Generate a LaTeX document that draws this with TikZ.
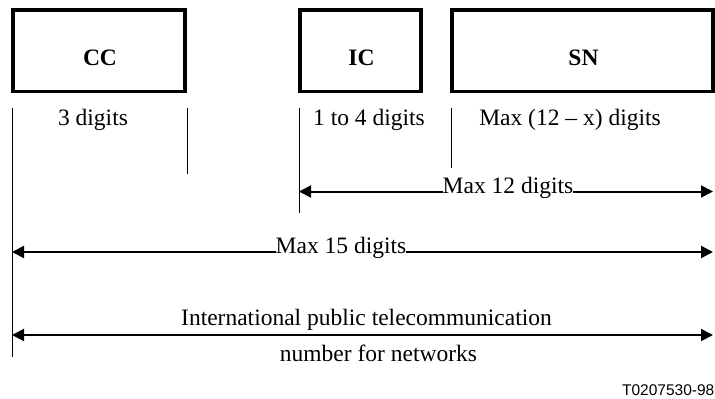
\documentclass[tikz,border=0pt]{standalone}
\usepackage{fontspec}
\setmainfont{Liberation Serif}
\newfontfamily\arialfont{Liberation Sans}
\usetikzlibrary{arrows.meta}
\begin{document}
\begin{tikzpicture}[x=1pt,y=-1pt,
  fieldbox/.style={draw,line width=3.5pt},
  guide/.style={draw,line width=0.8pt},
  dimline/.style={line width=2pt,{Triangle[length=12pt,width=12pt]}-{Triangle[length=12pt,width=12pt]}},
  fieldname/.style={font=\fontsize{23.5}{26}\selectfont\bfseries,anchor=base},
  lbl/.style={font=\fontsize{23.5}{26}\selectfont,anchor=base,inner sep=0pt},
  onlbl/.style={lbl,fill=white,inner xsep=0pt}]
\useasboundingbox (0,0) rectangle (715,399);
% boxes
\draw[fieldbox] (13,10) rectangle (185,91.5);
\draw[fieldbox] (300,10) rectangle (421,91.5);
\draw[fieldbox] (452,10) rectangle (713,91.5);
\node[fieldname] (cc) at (100,65) {CC};
\node[fieldname] (ic) at (361.5,65) {IC};
\node[fieldname] (sn) at (583.5,65) {SN};
% guide lines
\coordinate (g1t) at (12,108); \coordinate (g1b) at (12,357);
\coordinate (g2t) at (187,108); \coordinate (g2b) at (187,174);
\coordinate (g3t) at (299,108); \coordinate (g3b) at (299,213);
\coordinate (g4t) at (451,108); \coordinate (g4b) at (451,168);
\draw[guide] (g1t) -- (g1b);
\draw[guide] (g2t) -- (g2b);
\draw[guide] (g3t) -- (g3b);
\draw[guide] (g4t) -- (g4b);
% digit labels
\node[lbl] (d3) at (93,125.5) {3 digits};
\node[lbl] (d14) at (369,125.5) {1 to 4 digits};
\node[lbl] (dmx) at (570,125.5) {Max (12 -- x) digits};
% dimension arrows
\coordinate (a1l) at (299,191.5); \coordinate (a1r) at (713,191.5);
\draw[dimline] (a1l) -- (a1r);
\node[onlbl] (m12) at (508,193) {Max 12 digits};
\coordinate (a2l) at (12,252); \coordinate (a2r) at (713,252);
\draw[dimline] (a2l) -- (a2r);
\node[onlbl] (m15) at (341,253.5) {Max 15 digits};
\coordinate (a3l) at (12,335); \coordinate (a3r) at (713,335);
\draw[dimline] (a3l) -- (a3r);
\node[lbl] (int1) at (366.5,325) {International public telecommunication};
\node[lbl] (int2) at (378.5,361) {number for networks};
\node[font=\arialfont\fontsize{15.5}{17}\selectfont,anchor=base east,inner sep=0pt] (tag) at (714.5,395) {T0207530-98};
\end{tikzpicture}
\end{document}
